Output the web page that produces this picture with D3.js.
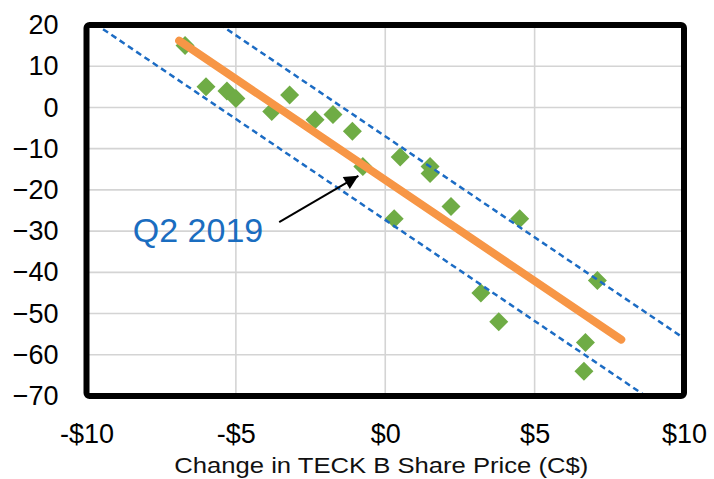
<!DOCTYPE html>
<html lang="en">
<head>
  <meta charset="UTF-8">
  <title>TECK B share price sensitivity</title>
  <script src="https://d3js.org/d3.v7.min.js"></script>
  <style>
    body { margin: 0; background: #fff; }
    svg { display: block; font-family: "Liberation Sans", Arial, sans-serif; }
  </style>
</head>
<body>
  <div id="chart"></div>
  <script>
    // change in TECK B share price (C$) vs. the other variable, one point per quarter
    const priceChange = [-6.7, -6.0, -5.3, -5.0, -3.8, -3.2, -2.35, -1.75, -1.1, -0.75,
                         0.5, 0.3, 1.5, 1.5, 2.2, 4.5, 3.2, 3.8, 6.7, 6.65, 7.1];
    const yChange = [15, 5, 4, 2.2, -1, 3, -3, -1.7, -5.8, -14.3,
                     -12, -27, -14.3, -16, -24, -27, -45, -52, -57, -64, -42];

    const xTicks = [-10, -5, 0, 5, 10];
    const yTicks = [20, 10, 0, -10, -20, -30, -40, -50, -60, -70];

    // fitted line and the two band lines around it
    const fitSlope = -4.9;
    const fitIntercept = -17.6;
    const fitRange = [-6.9, 7.9];
    const bandIntercepts = [-7.0, -27.3];

    const noteText = "Q2 2019";
    const notePos = [-8.45, -32.7];
    const arrowFrom = [-3.55, -27.8];
    const arrowTo = [-0.9, -16.6];

    const width = 714, height = 479;
    const plotL = 86.5, plotR = 684, plotT = 25, plotB = 396;

    const svg = d3.select("#chart").append("svg")
        .attr("width", width)
        .attr("height", height);

    const x = d3.scaleLinear().domain([-10, 10]).range([plotL, plotR]);
    const y = d3.scaleLinear().domain([-70, 20]).range([plotB, plotT]);

    const defs = svg.append("defs");
    defs.append("clipPath").attr("id", "plot-clip")
      .append("rect")
        .attr("x", plotL).attr("y", plotT)
        .attr("width", plotR - plotL).attr("height", plotB - plotT);

    defs.append("marker")
        .attr("id", "arrow")
        .attr("markerUnits", "userSpaceOnUse")
        .attr("viewBox", "0 0 10 10")
        .attr("refX", 10).attr("refY", 5)
        .attr("markerWidth", 16).attr("markerHeight", 14)
        .attr("orient", "auto")
      .append("path")
        .attr("d", "M0,0 L10,5 L0,10 Z")
        .attr("fill", "#000");

    // grid
    svg.append("g").selectAll("line")
      .data(yTicks.slice(1, -1))
      .join("line")
        .attr("x1", plotL).attr("x2", plotR)
        .attr("y1", d => y(d)).attr("y2", d => y(d))
        .attr("stroke", "#d4d4d4").attr("stroke-width", 1.6);
    svg.append("g").selectAll("line")
      .data(xTicks.slice(1, -1))
      .join("line")
        .attr("x1", d => x(d)).attr("x2", d => x(d))
        .attr("y1", plotT).attr("y2", plotB)
        .attr("stroke", "#d4d4d4").attr("stroke-width", 1.6);

    const plot = svg.append("g").attr("clip-path", "url(#plot-clip)");

    // points
    const pts = priceChange.map((v, i) => [v, yChange[i]]);
    plot.append("g").selectAll("path")
      .data(pts)
      .join("path")
        .attr("transform", d => `translate(${x(d[0])},${y(d[1])})`)
        .attr("d", "M0,-9.5 L9.5,0 L0,9.5 L-9.5,0 Z")
        .attr("fill", "#6fac45");

    const line = d3.line().x(d => x(d[0])).y(d => y(d[1]));

    plot.append("g").selectAll("path")
      .data(bandIntercepts)
      .join("path")
        .attr("d", b => line([[-10, fitSlope * -10 + b], [10, fitSlope * 10 + b]]))
        .attr("fill", "none")
        .attr("stroke", "#1c6cc4")
        .attr("stroke-width", 2.5)
        .attr("stroke-dasharray", "6,4");

    plot.append("path")
        .attr("d", line(fitRange.map(v => [v, fitSlope * v + fitIntercept])))
        .attr("fill", "none")
        .attr("stroke", "#f79646")
        .attr("stroke-width", 8)
        .attr("stroke-linecap", "round");

    // frame
    svg.append("rect")
        .attr("x", plotL).attr("y", plotT)
        .attr("width", plotR - plotL).attr("height", plotB - plotT)
        .attr("rx", 3)
        .attr("fill", "none")
        .attr("stroke", "#000")
        .attr("stroke-width", 6);

    // axes
    const fmt = d => (d < 0 ? "-" : "") + "$" + Math.abs(d);

    const gx = svg.append("g")
        .attr("transform", `translate(0,${plotB})`)
        .call(d3.axisBottom(x).tickValues(xTicks).tickFormat(fmt).tickSize(0).tickPadding(28));
    const gy = svg.append("g")
        .attr("transform", `translate(${plotL},0)`)
        .call(d3.axisLeft(y).tickValues(yTicks).tickSize(0).tickPadding(28));

    [gx, gy].forEach(g => {
      g.select(".domain").remove();
      g.selectAll("text")
          .attr("font-family", "Liberation Sans, Arial, sans-serif")
          .attr("font-size", 27)
          .attr("fill", "#000");
    });

    svg.append("text")
        .attr("x", (plotL + plotR) / 2 - 4)
        .attr("y", 473)
        .attr("text-anchor", "middle")
        .attr("font-size", 22)
        .attr("textLength", 414)
        .attr("lengthAdjust", "spacingAndGlyphs")
        .attr("fill", "#111")
        .text("Change in TECK B Share Price (C$)");

    // annotation
    svg.append("line")
        .attr("x1", x(arrowFrom[0])).attr("y1", y(arrowFrom[1]))
        .attr("x2", x(arrowTo[0])).attr("y2", y(arrowTo[1]))
        .attr("stroke", "#000")
        .attr("stroke-width", 2)
        .attr("marker-end", "url(#arrow)");

    svg.append("text")
        .attr("x", x(notePos[0]))
        .attr("y", y(notePos[1]))
        .attr("font-size", 34)
        .attr("fill", "#1a6dc0")
        .text(noteText);
  </script>
</body>
</html>
